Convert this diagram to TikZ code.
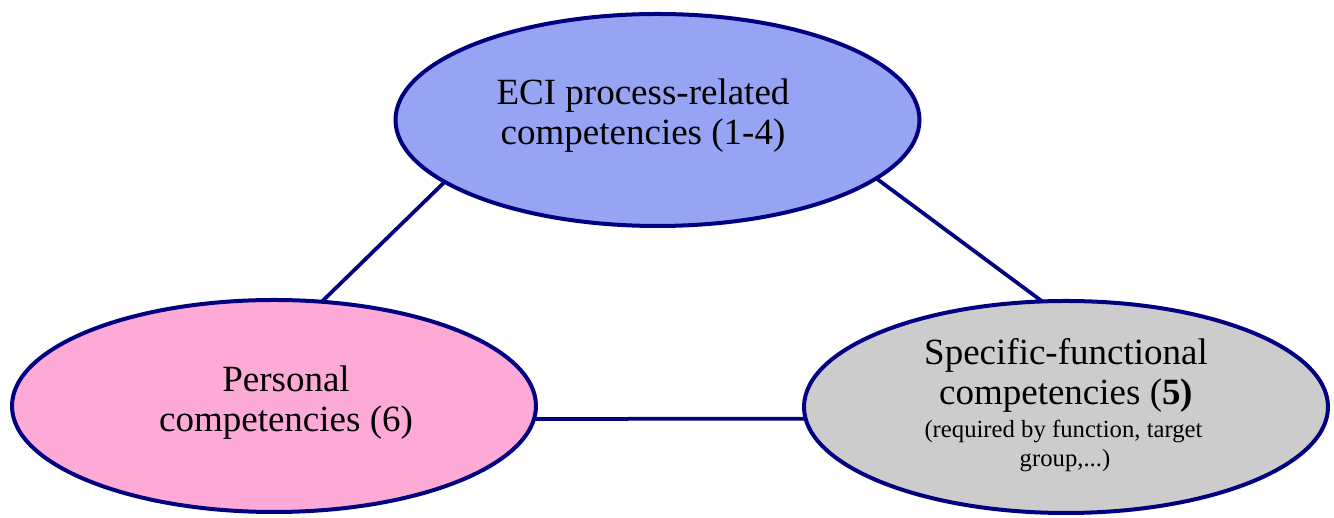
\documentclass[tikz,border=0pt]{standalone}
\usepackage{fontspec}
\setmainfont{Liberation Serif}
\usetikzlibrary{shapes.geometric,calc}
\definecolor{navy}{RGB}{0,0,128}
\definecolor{procfill}{RGB}{151,164,243}
\definecolor{persfill}{RGB}{253,170,214}
\definecolor{specfill}{RGB}{204,204,204}
\tikzset{
  comp/.style={ellipse, draw=navy, line width=4pt, minimum width=524pt,
    minimum height=212pt, inner sep=0pt},
  big/.style={anchor=base, inner sep=0pt, font=\fontsize{37}{40}\selectfont},
  small/.style={anchor=base, inner sep=0pt, font=\fontsize{24.7}{29}\selectfont},
  link/.style={draw=navy, line width=3.75pt}
}
% point on the rim of a competence ellipse at parameter angle #2
\newcommand{\onrim}[2]{($(#1.center)+({262*cos(#2)},{106*sin(#2)})$)}
\begin{document}
\begin{tikzpicture}[x=1pt,y=1pt]
\useasboundingbox (0,0) rectangle (1334,518);
% the three competence areas
\node[comp, fill=procfill] (proc) at (657.5,398) {};
\node[comp, fill=persfill] (pers) at (274,112) {};
\node[comp, fill=specfill] (spec) at (1066,111) {};
% their labels
\node[big] (procA) at (643,413) {ECI process-related};
\node[big] (procB) at (643,373) {competencies (1-4)};
\node[big] (persA) at (286,126) {Personal};
\node[big] (persB) at (286,86) {competencies (6)};
\node[big] (specA) at (1066,153) {Specific-functional};
\node[big] (specB) at (1066,113) {competencies (\textbf{5)}};
\node[small] (specC) at (1063.5,80) {(required by function, target};
\node[small] (specD) at (1065,51) {group,...)};
% connections between the areas
\draw[link] \onrim{proc}{215.7} -- \onrim{pers}{79.5};
\draw[link] \onrim{proc}{-33.4} -- \onrim{spec}{95.2};
\draw[link] \onrim{pers}{-7} -- \onrim{spec}{186.4};
\end{tikzpicture}
\end{document}
